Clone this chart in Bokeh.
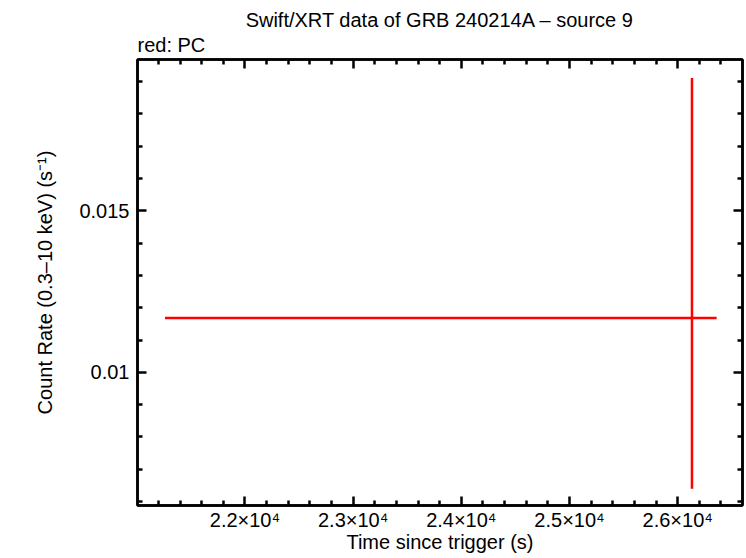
from bokeh.plotting import figure
from bokeh.models import Range1d, FixedTicker, LinearAxis, Title
from bokeh.embed import file_html
from bokeh.resources import INLINE

# ---- data ----
time = [26132.0]
time_lo = [21261.0]
time_hi = [26360.0]
rate = [0.01168]
rate_lo = [0.006395]
rate_hi = [0.019113]

x_major = [22000, 23000, 24000, 25000, 26000]
x_labels = ["2.2×10⁴", "2.3×10⁴", "2.4×10⁴", "2.5×10⁴", "2.6×10⁴"]
x_minor = [21200, 21400, 21600, 21800, 22200, 22400, 22600, 22800,
           23200, 23400, 23600, 23800, 24200, 24400, 24600, 24800,
           25200, 25400, 25600, 25800, 26200, 26400]
y_major = [0.01, 0.015]
y_labels = ["0.01", "0.015"]
y_minor = [0.006, 0.007, 0.008, 0.009, 0.011, 0.012, 0.013, 0.014,
           0.016, 0.017, 0.018, 0.019]

x_lim = (21007, 26599)
y_lim = (0.005878, 0.019685)

FONT = "Liberation Sans"
FS = "20px"

p = figure(width=746, height=558, title=None,
           x_range=Range1d(*x_lim), y_range=Range1d(*y_lim),
           output_backend="svg", toolbar_location=None,
           min_border_left=137, min_border_right=4,
           min_border_top=59, min_border_bottom=53)
p.grid.visible = False
p.outline_line_color = "black"
p.outline_line_width = 2.5
p.background_fill_color = "white"
p.border_fill_color = "white"


def style(ax, ticks, minor, labels):
    ax.ticker = FixedTicker(ticks=ticks, minor_ticks=minor)
    ax.axis_line_color = "black"
    ax.axis_line_width = 2.5
    ax.major_tick_line_color = "black"
    ax.minor_tick_line_color = "black"
    ax.major_tick_line_width = 2.5
    ax.minor_tick_line_width = 2.5
    ax.major_tick_in = 9
    ax.major_tick_out = 0
    ax.minor_tick_in = 5
    ax.minor_tick_out = 0
    ax.major_label_text_font = FONT
    ax.major_label_text_color = "black"
    ax.axis_label_text_font = FONT
    ax.axis_label_text_color = "black"
    ax.axis_label_text_font_style = "normal"
    ax.axis_label_text_font_size = FS
    if labels is None:
        ax.major_label_overrides = {t: "" for t in ticks}
        ax.major_label_text_font_size = "0px"
        ax.major_label_standoff = 0
    else:
        ax.major_label_overrides = {t: l for t, l in zip(ticks, labels)}
        ax.major_label_text_font_size = FS


xb = p.xaxis[0]
style(xb, x_major, x_minor, x_labels)
xb.axis_label = "Time since trigger (s)"
xb.major_label_standoff = 3
xb.axis_label_standoff = -3

yl = p.yaxis[0]
style(yl, y_major, y_minor, y_labels)
yl.axis_label = "Count Rate (0.3–10 keV) (s⁻¹)"
yl.major_label_standoff = 8
yl.axis_label_standoff = 20
yl.major_label_orientation = "horizontal"

xt = LinearAxis()
style(xt, x_major, x_minor, None)
p.add_layout(xt, "above")

yr = LinearAxis()
style(yr, y_major, y_minor, None)
p.add_layout(yr, "right")

p.add_layout(Title(text="red: PC", align="left", text_font=FONT,
                   text_font_size=FS, text_font_style="normal",
                   text_color="black", standoff=8), "above")
p.add_layout(Title(text="Swift/XRT data of GRB 240214A – source 9",
                   align="center", text_font=FONT, text_font_size=FS,
                   text_font_style="normal", text_color="black",
                   offset=-5, standoff=-6), "above")

# error bars
p.segment(x0=time_lo, x1=time_hi, y0=rate, y1=rate,
          line_color="#ff0000", line_width=2.5)
p.segment(x0=time, x1=time, y0=rate_lo, y1=rate_hi,
          line_color="#ff0000", line_width=2.5)

open("out.html", "w").write(file_html(p, INLINE))
